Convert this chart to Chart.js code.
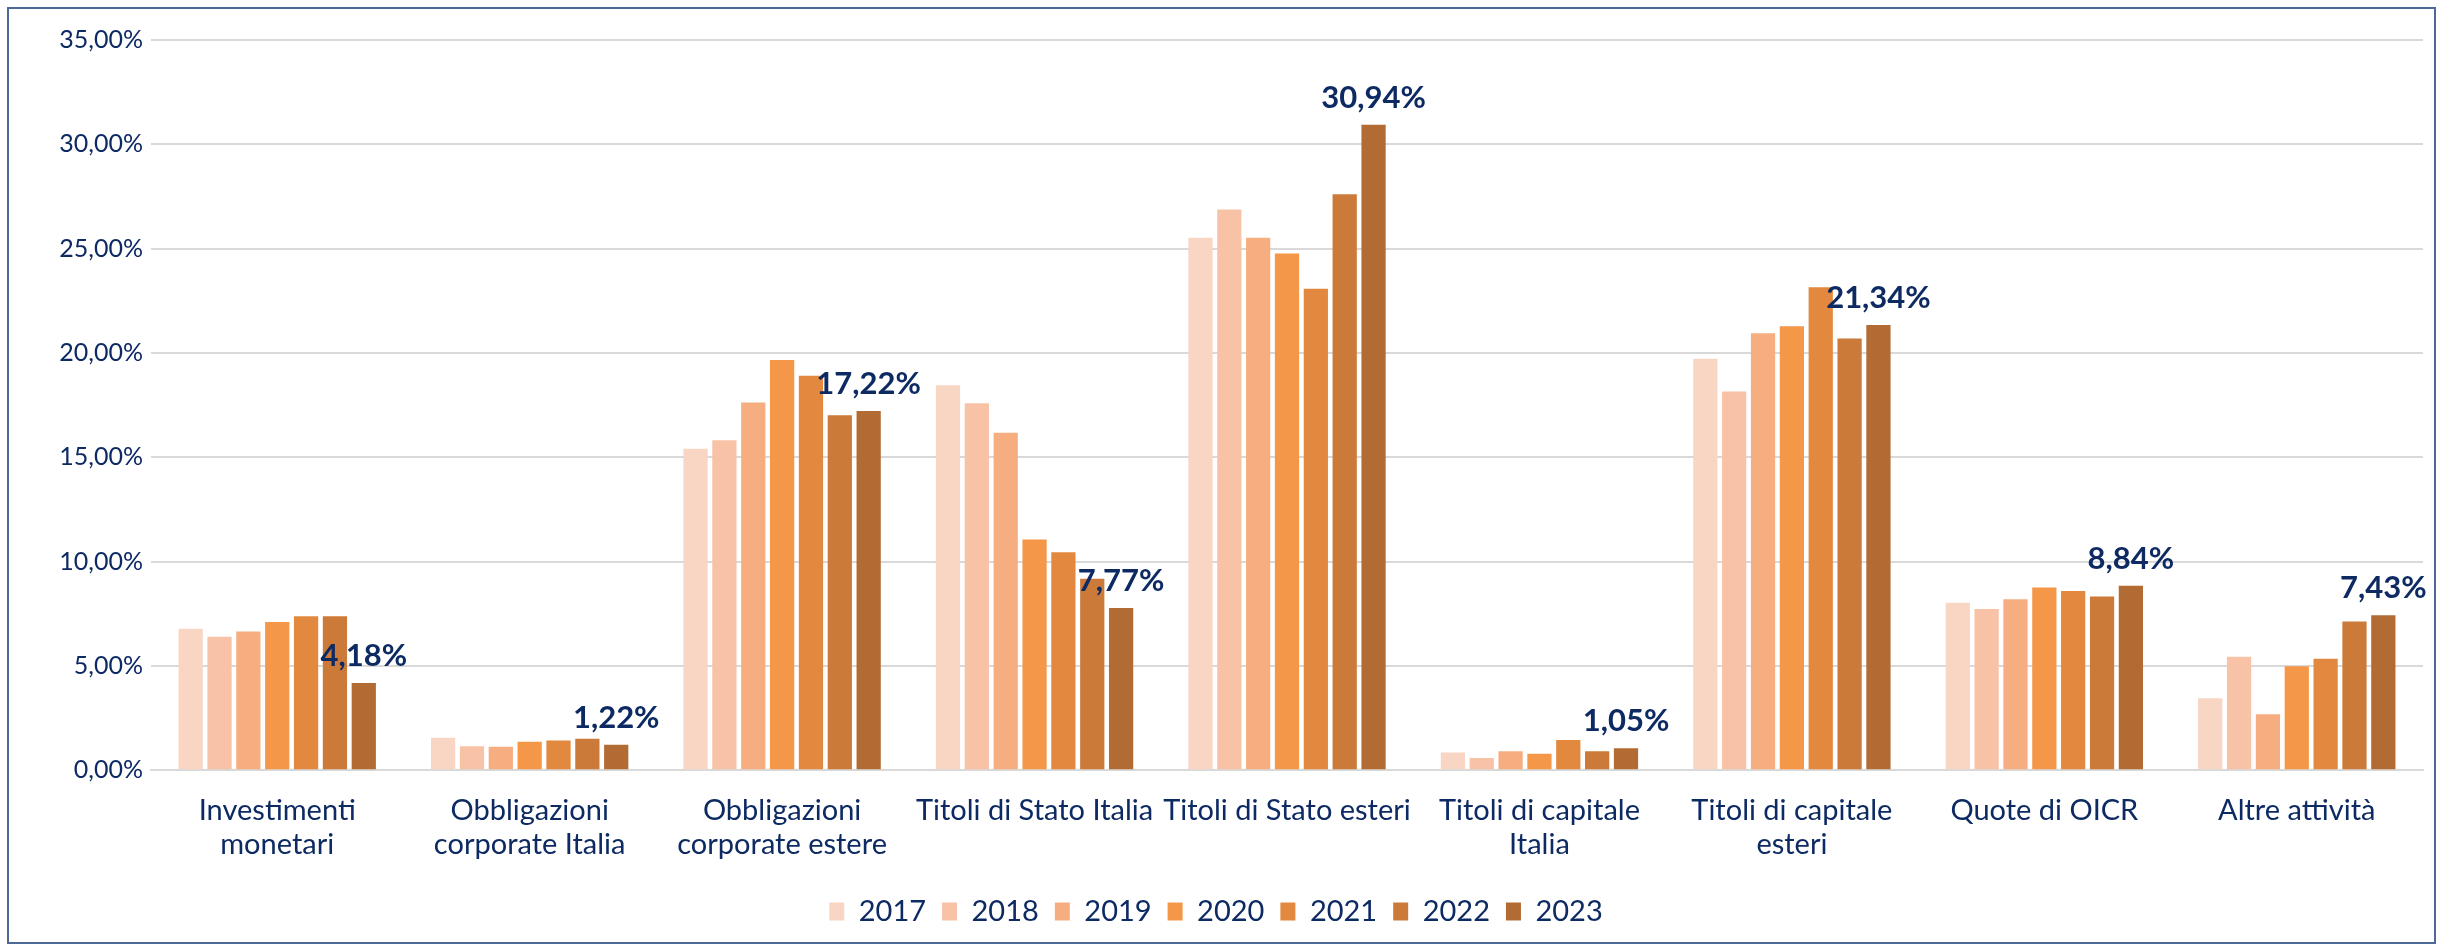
<!DOCTYPE html>
<html lang="it">
<head>
    <meta charset="UTF-8">
    <title>Composizione investimenti 2017-2023</title>
    <script src="https://cdn.jsdelivr.net/npm/chart.js"></script>
    <style>
        body {
            margin: 0;
            background: #ffffff;
            width: 2443px;
            height: 951px;
            overflow: hidden;
        }

        .chart-box {
            position: absolute;
            left: 7px;
            top: 7px;
            width: 2429px;
            height: 937px;
            border: 2px solid #4e6898;
            box-sizing: border-box;
        }
    </style>
</head>
<body>
    <div class="chart-box">
        <canvas id="invChart"></canvas>
    </div>

    <script>
        // categories (multi-line labels as in the original)
        var categories = [
            ['Investimenti', 'monetari'],
            ['Obbligazioni', 'corporate Italia'],
            ['Obbligazioni', 'corporate estere'],
            'Titoli di Stato Italia',
            'Titoli di Stato esteri',
            ['Titoli di capitale', 'Italia'],
            ['Titoli di capitale', 'esteri'],
            'Quote di OICR',
            'Altre attività'
        ];

        var years = ['2017', '2018', '2019', '2020', '2021', '2022', '2023'];

        // values in %
        var v2017 = [6.78, 1.55, 15.41, 18.45, 25.52, 0.85, 19.72, 8.03, 3.45];
        var v2018 = [6.40, 1.15, 15.81, 17.59, 26.88, 0.58, 18.15, 7.72, 5.43];
        var v2019 = [6.64, 1.12, 17.62, 16.17, 25.52, 0.90, 20.94, 8.19, 2.68];
        var v2020 = [7.10, 1.36, 19.66, 11.05, 24.76, 0.78, 21.28, 8.75, 4.98];
        var v2021 = [7.38, 1.42, 18.90, 10.45, 23.08, 1.45, 23.15, 8.59, 5.34];
        var v2022 = [7.38, 1.50, 17.01, 9.18, 27.61, 0.90, 20.69, 8.32, 7.13];
        var v2023 = [4.18, 1.22, 17.22, 7.77, 30.94, 1.05, 21.34, 8.84, 7.43];

        var yearColors = ['#f9d5c3', '#f8c2a6', '#f6ae81', '#f59748', '#e2883f', '#cb7a39', '#b26b33'];

        var navy = '#0d2a63';
        var fontFamily = "Lato, 'Open Sans', sans-serif";

        function pct(v) {
            return v.toFixed(2).replace('.', ',') + '%';
        }

        var series = [v2017, v2018, v2019, v2020, v2021, v2022, v2023];

        var datasets = series.map(function (vals, i) {
            return {
                label: years[i],
                data: vals,
                backgroundColor: yearColors[i],
                borderWidth: 0,
                categoryPercentage: 0.8,
                barPercentage: 0.84
            };
        });

        // labels only on the last year, drawn above the bars
        var lastYearLabels = {
            id: 'lastYearLabels',
            afterDatasetsDraw: function (chart) {
                var ctx = chart.ctx;
                var last = chart.data.datasets.length - 1;
                var meta = chart.getDatasetMeta(last);
                ctx.save();
                ctx.font = 'bold 31px ' + fontFamily;
                ctx.fillStyle = navy;
                ctx.textAlign = 'center';
                ctx.textBaseline = 'alphabetic';
                meta.data.forEach(function (bar, i) {
                    ctx.fillText(pct(chart.data.datasets[last].data[i]), bar.x, bar.y - 17);
                });
                ctx.restore();
            }
        };

        var ctx = document.getElementById('invChart').getContext('2d');
        var invChart = new Chart(ctx, {
            type: 'bar',
            data: {
                labels: categories,
                datasets: datasets
            },
            plugins: [lastYearLabels],
            options: {
                responsive: true,
                maintainAspectRatio: false,
                animation: false,
                layout: {
                    padding: { top: 31, right: 11, bottom: 6, left: 0 }
                },
                plugins: {
                    tooltip: { enabled: false },
                    legend: {
                        position: 'bottom',
                        labels: {
                            boxWidth: 15,
                            boxHeight: 18,
                            padding: 16,
                            color: navy,
                            font: { family: fontFamily, size: 29 }
                        }
                    }
                },
                scales: {
                    x: {
                        grid: { display: false },
                        border: { color: '#d9d9d9', width: 2 },
                        afterFit: function (scale) {
                            scale.height += 3;
                        },
                        ticks: {
                            color: navy,
                            padding: 16,
                            maxRotation: 0,
                            autoSkip: false,
                            font: { family: fontFamily, size: 29, lineHeight: 1.17 }
                        }
                    },
                    y: {
                        min: 0,
                        max: 35,
                        afterFit: function (scale) {
                            scale.width = 142;
                        },
                        grid: { color: '#d9d9d9', lineWidth: 2, drawTicks: false },
                        border: { display: false },
                        ticks: {
                            stepSize: 5,
                            color: navy,
                            padding: 8,
                            font: { family: fontFamily, size: 25 },
                            callback: function (value) {
                                return pct(value);
                            }
                        }
                    }
                }
            }
        });
    </script>
</body>
</html>
